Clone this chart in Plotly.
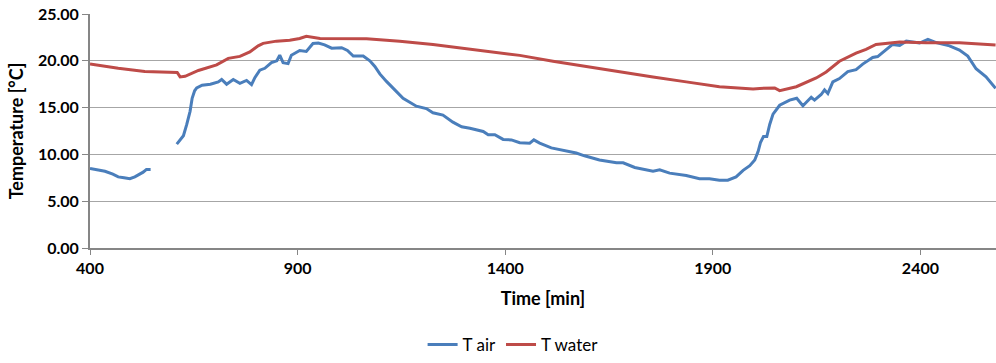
import plotly.graph_objects as go

# ---- data ----
time_air = [400, 436, 455, 468, 482, 496, 508, 516, 528, 536, 546,
            None,
            609, 616, 625, 633, 641, 646, 652, 657, 670, 690, 709, 717, 729, 745, 761, 777, 789, 797,
            809, 821, 837, 850, 857, 865, 877, 885, 905, 921, 937, 950, 965, 982, 1006, 1020, 1034,
            1058, 1074, 1086, 1098, 1114, 1130, 1154, 1186, 1210, 1226, 1250, 1274, 1295, 1315, 1347,
            1359, 1375, 1395, 1415, 1435, 1459, 1469, 1483, 1511, 1539, 1571, 1591, 1627, 1668, 1684,
            1712, 1756, 1772, 1796, 1836, 1868, 1892, 1916, 1936, 1956, 1973, 1989, 2001, 2009, 2015,
            2022, 2030, 2037, 2045, 2061, 2085, 2102, 2117, 2137, 2145, 2161, 2169, 2177, 2189, 2205,
            2225, 2245, 2261, 2285, 2297, 2313, 2333, 2350, 2366, 2398, 2418, 2438, 2470, 2494, 2514,
            2534, 2558, 2581]
t_air = [8.50, 8.20, 7.90, 7.60, 7.50, 7.40, 7.60, 7.80, 8.10, 8.40, 8.40,
         None,
         11.1, 11.5, 12.0, 13.2, 14.6, 16.0, 16.8, 17.1, 17.4, 17.5, 17.75, 18.0, 17.5, 18.0, 17.6, 17.9, 17.45, 18.2,
         19.0, 19.2, 19.8, 20.0, 20.6, 19.8, 19.7, 20.6, 21.1, 21.0, 21.85, 21.9, 21.7, 21.35, 21.4, 21.1, 20.5,
         20.5, 20.0, 19.4, 18.6, 17.8, 17.05, 16.0, 15.15, 14.9, 14.45, 14.2, 13.45, 12.95, 12.8, 12.45,
         12.1, 12.1, 11.6, 11.55, 11.25, 11.2, 11.55, 11.2, 10.7, 10.45, 10.15, 9.85, 9.4, 9.1, 9.1,
         8.6, 8.2, 8.35, 8.0, 7.75, 7.4, 7.4, 7.25, 7.25, 7.6, 8.3, 8.8, 9.4, 10.3, 11.3,
         11.9, 11.9, 13.2, 14.3, 15.25, 15.8, 16.0, 15.2, 16.1, 15.8, 16.4, 16.9, 16.5, 17.75, 18.1,
         18.85, 19.05, 19.65, 20.35, 20.45, 21.05, 21.75, 21.65, 22.1, 21.9, 22.3, 21.95, 21.6, 21.15, 20.5,
         19.15, 18.3, 17.05]

time_water = [400, 468, 532, 560, 605, 610, 617, 629, 661, 693, 705, 733, 761, 785, 805, 817, 849, 881,
              905, 921, 954, 1066, 1146, 1226, 1307, 1387, 1435, 1515, 1595, 1676, 1756, 1836, 1916,
              1997, 2013, 2049, 2061, 2101, 2149, 2173, 2205, 2245, 2269, 2293, 2350, 2414, 2494, 2581]
t_water = [19.67, 19.2, 18.86, 18.8, 18.73, 18.75, 18.28, 18.34, 18.97, 19.42, 19.56, 20.26, 20.47, 20.95,
           21.6, 21.86, 22.1, 22.2, 22.38, 22.62, 22.38, 22.35, 22.1, 21.75, 21.3, 20.89, 20.58, 19.95,
           19.38, 18.86, 18.28, 17.75, 17.23, 16.98, 17.05, 17.1, 16.81, 17.23, 18.17, 18.8, 19.95, 20.81,
           21.23, 21.75, 22.0, 21.93, 21.93, 21.68]

y_ticks = [0, 5, 10, 15, 20, 25]
x_ticks = [400, 900, 1400, 1900, 2400]

FONT = "Lato, 'Open Sans', sans-serif"

fig = go.Figure()
fig.add_trace(go.Scatter(x=time_air, y=t_air, mode="lines", name="T air",
                         line=dict(color="#4a7ebb", width=3), connectgaps=False))
fig.add_trace(go.Scatter(x=time_water, y=t_water, mode="lines", name="T water",
                         line=dict(color="#be4b48", width=3)))

fig.update_layout(
    width=996, height=363,
    margin=dict(l=90, r=0, t=14, b=110),
    plot_bgcolor="white", paper_bgcolor="white",
    font=dict(family=FONT, size=15, color="black"),
    showlegend=True,
    legend=dict(orientation="h", x=0.467, xanchor="center", y=-0.415, yanchor="middle",
                font=dict(family=FONT, size=17, color="black"), itemwidth=30,
                tracegroupgap=0),
)
fig.update_xaxes(
    range=[400, 2582], tickvals=x_ticks, ticktext=[str(v) for v in x_ticks],
    showgrid=False, zeroline=False,
    showline=True, linecolor="#868686", linewidth=2,
    ticks="outside", ticklen=5, tickcolor="#868686", tickwidth=1,
    tickfont=dict(family=FONT, size=16, weight="bold", color="black"),
    title=dict(text="Time [min]", font=dict(family=FONT, size=18, weight="bold", color="black"),
               standoff=16),
)
fig.update_yaxes(
    range=[0, 25], tickvals=y_ticks, ticktext=[f"{v:.2f}" for v in y_ticks],
    showgrid=True, gridcolor="#a6a6a6", gridwidth=1.3, zeroline=False,
    showline=True, linecolor="#868686", linewidth=2,
    ticks="outside", ticklen=6, tickcolor="#868686", tickwidth=1,
    tickfont=dict(family=FONT, size=16, weight="bold", color="black"),
    title=dict(text="Temperature [°C]", font=dict(family=FONT, size=18, weight="bold", color="black"),
               standoff=10),
)

fig.write_html("out.html")
